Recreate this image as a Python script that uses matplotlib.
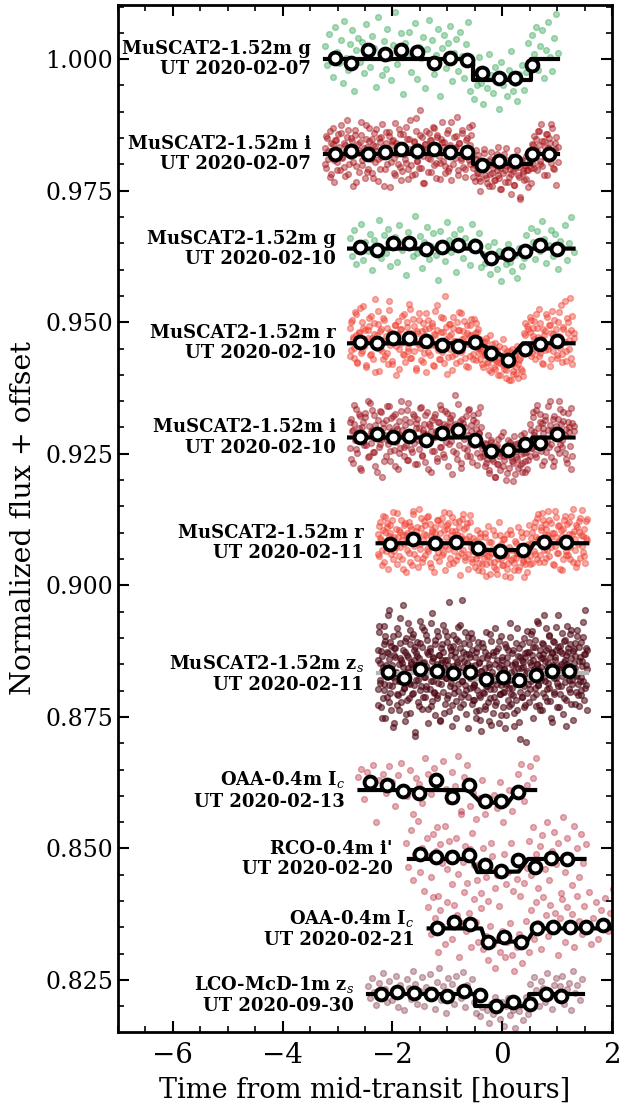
import numpy as np
import matplotlib
matplotlib.use("Agg")
import matplotlib.pyplot as plt
from matplotlib.ticker import MultipleLocator, FormatStrFormatter

plt.rcParams['font.family'] = 'serif'
plt.rcParams['mathtext.fontset'] = 'dejavuserif'

labels = ["MuSCAT2-1.52m g\nUT 2020-02-07",
          "MuSCAT2-1.52m i\nUT 2020-02-07",
          "MuSCAT2-1.52m g\nUT 2020-02-10",
          "MuSCAT2-1.52m r\nUT 2020-02-10",
          "MuSCAT2-1.52m i\nUT 2020-02-10",
          "MuSCAT2-1.52m r\nUT 2020-02-11",
          "MuSCAT2-1.52m z$_s$\nUT 2020-02-11",
          "OAA-0.4m I$_c$\nUT 2020-02-13",
          "RCO-0.4m i'\nUT 2020-02-20",
          "OAA-0.4m I$_c$\nUT 2020-02-21",
          "LCO-McD-1m z$_s$\nUT 2020-09-30"]

colors = ['#35a857', '#a50f15', '#35a857', '#ef3b2c', '#9a0c16', '#ef3b2c',
          '#4a0510', '#b2182b', '#b2182b', '#b2182b', '#7a2535']
alphas = [0.42, 0.42, 0.42, 0.42, 0.42, 0.42, 0.55, 0.35, 0.35, 0.35, 0.35]
model_col = ['k', 'k', 'k', 'k', 'k', 'k', '#b5b5b5', 'k', 'k', 'k', 'k']

# offset level of each light curve
levels = [1.0000, 0.9819, 0.9640, 0.9460, 0.9281, 0.9080, 0.8833, 0.8611, 0.8480, 0.8348, 0.8223]

# time span of the unbinned data [hours]
t_lo = [-3.23, -3.23, -2.78, -2.78, -2.78, -2.27, -2.27, -2.62, -1.75, -1.35, -2.45]
t_hi = [1.01, 1.01, 1.30, 1.30, 1.30, 1.55, 1.55, 0.62, 1.52, 2.10, 1.45]

# unbinned residuals from the offset level, units of 1e-4
res_g07 = [25, -12, 48, 5, -33, 61, 14, -8, 37, -45,
           72, 3, -21, 29, 55, -60, 18, 40, -5, 33,
           -27, 66, 9, -14, 44, 21, -52, 80, 12, -30,
           35, -18, 58, 2, -40, 27, 90, -9, 16, 49,
           -66, 31, 7, 52, -24, 13, 68, -37, 24, 3,
           43, -55, 19, 75, -11, 36, -29, 8, 57, -70,
           22, 46, -16, 30, 63, -42, 11, 39, -23, 51,
           6, -35, 28, 70, -60, -10, -75, -25, -50, 5,
           -45, -85, -20, -55, 10, -30, -65, -15, -40, -95,
           -5, -50, -35, -70, -20, 15, -60, -45, -80, -28,
           -38, -12, -58, -25, 30, -15, 45, 10, 62, -20,
           25, 55, -35, 18, 70, 4, -22, 40, 85, 12]
res_i07 = [12, -25, 31, -8, 44, -37, 5, 19, -52, 27,
           -14, 38, 2, -29, 55, -6, 21, -41, 9, 33,
           47, -18, -3, 26, -60, 15, 36, -22, 8, -33,
           24, 61, -11, 3, -45, 29, 14, -27, 50, -9,
           -36, 18, 40, -15, 7, -50, 32, 23, -4, 58,
           10, -28, 43, -19, 1, 35, -62, 17, 28, -7,
           -40, 22, 6, 49, -24, 13, -31, 39, 0, -16,
           30, -47, 11, 66, -20, 4, 26, -38, 45, -12,
           16, 84, -26, 34, -3, -55, 20, 9, -33, 41,
           -8, 27, 52, -21, 14, -44, 37, 5, -17, 30,
           62, -13, 24, -35, 7, 46, -26, 18, -49, 3,
           33, -6, 15, 72, -30, 21, -10, 40, -23, 11,
           -42, 28, 2, 53, -18, 36, -5, -25, -50, -8,
           -33, -2, -45, -70, -15, -28, 10, -40, -20, -55,
           -12, -38, 5, -60, -25, -48, -8, -30, 14, -44,
           -65, -18, -35, 0, -52, -22, -10, -42, -28, -75,
           -5, -32, -58, -15, 8, -40, -24, -85, -12, -36,
           -48, -20, -3, -30, -62, -14, -26, 20, -18, 35,
           8, -30, 44, 17, -12, 58, -22, 26, -5, 39,
           -40, 12, 31, -16, 50, 3, -27, 22, -58, 15]
res_g10 = [20, -14, 35, -30, 8, 47, -22, 12, -5, 28,
           -41, 16, 3, 55, -18, 26, -9, 38, -33, 6,
           22, -26, 44, -3, 15, -50, 31, 9, -15, 62,
           -8, 24, -37, 13, 41, -20, 5, 29, -12, -60,
           34, 0, -24, 50, 17, -7, 27, -45, 11, 38,
           -17, 21, 4, -32, 46, 14, -2, 30, -35, -10,
           -28, 5, -48, -20, 12, -38, -5, -62, -15, -30,
           8, -25, -42, -12, -55, 2, -33, -18, 25, -8,
           40, 12, -20, 33, -5, 52, 18, -28, 7, 36,
           -14, 27, -38, 15, 3, 45, -21, 10, 60, -6]
res_r10 = [30, -12, 45, 8, -27, 60, 15, -38, 22, 5,
           -18, 40, 70, -5, 26, -45, 11, 33, -22, 52,
           3, -30, 18, 85, -9, 37, -52, 24, 6, -15,
           48, -25, 13, 29, -40, 64, -3, 20, -33, 9,
           35, -60, 16, 42, -11, 27, 0, -20, 55, -36,
           14, 31, -8, 75, -28, 19, 46, -14, 4, -47,
           23, -2, 58, -31, 10, 38, -19, 28, -55, 12,
           44, -23, 7, 33, -42, 17, 62, -6, 25, -29,
           2, 50, -16, 21, -37, 90, 9, -26, 36, -10,
           18, -50, 30, 5, -21, 41, -4, 26, -34, 57,
           -13, 24, 11, -44, 35, -1, 15, -25, 47, 6,
           -30, 20, 39, -9, 28, -18, 8, -15, -40, 2,
           -22, 10, -35, -8, -50, 15, -28, -12, -45, 0,
           -33, -18, -60, -5, -38, -25, 8, -48, -20, -65,
           -15, -42, -30, -70, -10, -52, -35, -22, -58, -5,
           -40, -28, -48, -12, -62, -20, 15, -10, 32, -5,
           22, 45, -18, 30, 8, -30, 55, 12, -24, 38,
           4, -38, 28, 16, -12, 50, -5, 35, -44, 20,
           62, -15, 9, 27, -28, 40, 14, -8, 72, -20,
           31, 3, -33, 48, 19, -10, 86, 25, -40, 11]
res_i10 = [-20, 35, 12, -48, 26, -5, 55, -30, 18, 40,
           -62, 8, 30, -14, 47, 2, -38, 22, 65, -10,
           15, -27, 42, -55, 10, 33, -18, 50, -2, -75,
           28, 5, -35, 60, -12, 20, -44, 37, 9, -24,
           45, -8, 16, -60, 32, -20, 70, 3, -36, 24,
           -15, 52, -42, 11, 29, -28, 6, 41, -50, 18,
           36, -4, -22, 58, -33, 14, 26, -47, 7, 48,
           -11, 21, -65, 34, 0, -26, 44, 13, -39, 30,
           62, -18, 9, -31, 25, 50, -9, -54, 19, 37,
           -6, 43, -25, 15, 80, -40, 22, -14, 31, -58,
           12, 27, -20, 40, -35, 4, 55, -12, 24, -46,
           33, -2, 17, -29, 46, 8, -38, 20, -15, -30,
           -55, -12, -40, 5, -68, -25, -8, -45, -20, -75,
           -18, -50, -2, -35, -62, -28, 10, -42, -22, -80,
           -30, -5, -58, -38, -15, -48, 2, -70, -25, -40,
           -10, -52, -32, -65, -20, 8, -45, -28, -60, -12,
           -35, 15, -20, 38, 5, -32, 52, 18, -10, 44,
           -26, 28, 9, -44, 33, -6, 60, -18, 24, -38,
           14, -55, 40, 2, -22, 35, 70, -12, 26, -4,
           48, -30, 17, -48, 30, 11, -16, 56, -36, 21]
res_r11 = [18, -25, 40, 6, -12, 52, -35, 22, -3, 30,
           -48, 14, 35, -20, 8, 60, -15, 27, -40, 11,
           25, -8, 45, -30, 16, -2, 38, -55, 20, 4,
           -18, 33, 10, -42, 55, -6, 24, -28, 13, 66,
           -10, 29, -36, 7, 42, -22, 15, 50, -14, 1,
           36, -45, 21, -4, 31, -26, 9, 44, -33, 19,
           -7, 48, -19, 26, -50, 12, 34, -11, 58, -28,
           5, 23, -38, 41, -2, 17, -24, 30, -60, 14,
           46, -13, 28, -32, 8, 38, -20, 3, 54, -8,
           -30, 10, -45, -5, 25, -22, -38, 12, -15, -52,
           -8, -28, 20, -40, -12, 32, -25, -58, 2, -18,
           -35, 15, -48, -10, -30, 40, -20, -2, -42, 8,
           -15, -62, -25, 18, -38, -8, 25, -32, -12, -50,
           4, -28, -18, 30, -45, -5, -22, 12, -35, -65,
           -10, 20, -30, -15, 35, -40, -2, 22, -15, 40,
           12, -30, 55, 8, -22, 30, -6, 45, -35, 16,
           28, -12, 62, -25, 10, 38, -40, 20, -5, 50,
           -18, 32, 5, -48, 26, 14, -30, 44, 2, -14,
           36, -22, 18, -8, 52, -35, 24, 9, -45, 30,
           -2, 42, -28, 15, 64, -16, 28, -38, 10, 46]
res_zs11 = [45, -30, 78, -12, 20, -65, 33, 5, -48, 90,
            -20, 62, -85, 15, 40, -8, 110, -55, 27, -38,
            8, 52, -25, 70, -102, 35, -15, 48, 0, -60,
            85, -42, 18, -70, 58, 25, -5, -35, 130, 12,
            -28, 40, -90, 66, 2, -50, 30, 95, -18, 55,
            -75, 22, 10, -40, 75, -22, 44, -120, 16, 38,
            60, -12, -55, 28, 100, -32, 7, 50, -68, 20,
            -8, 82, -45, 13, -25, 64, -95, 36, 4, -30,
            42, -62, 24, 115, -15, 30, -38, 56, -80, 9,
            -48, 18, 70, -5, 35, -88, 47, -20, 26, 92,
            -35, 11, -58, 80, -10, 26, 60, -42, 3, -72,
            50, -18, 34, -100, 14, 72, -28, 40, -6, 65,
            -52, 21, 88, -33, 5, 48, -64, 28, -15, 140,
            12, -40, 57, -22, 36, -78, 19, 68, -45, 2,
            31, -9, 76, -58, 44, -26, -20, -50, 15, -85,
            40, -32, -8, 60, -70, 22, -45, 5, -110, 28,
            -15, 50, -38, 10, -62, 78, -25, -5, 35, -90,
            18, -48, 62, -20, 2, -75, 40, -30, 85, -12,
            -55, 25, -10, 48, -95, 12, -40, 70, -22, -2,
            30, -65, 8, -35, 55, -18, -80, 20, 45, -50,
            -28, 95, -12, -58, 15, 38, -42, 5, -100, 22,
            58, -20, -70, 32, -8, 48, -35, -125, 10, 26,
            -45, 12, 66, -25, -60, 30, 0, -38, 80, -10,
            40, -55, 22, 75, -15, 35, -85, 50, 8, -28,
            64, -40, 18, 100, -22, 6, -60, 44, 28, -12,
            -70, 36, 55, -8, 24, -45, 86, -30, 12, 48,
            -18, 70, -52, 30, 2, -92, 40, 16, -35, 60,
            25, -10, 45, -65, 110, -25, 8, 52, -40, 18,
            -5, 38, -78, 22, 62, -16, 34, -50, 90, 4,
            48, -30, 14, 75, -58, 28, -12, 42, -88, 20,
            10, 58, -36, -4, 82, -20, 50, -62, 30, -8,
            -42, 24, 68, -15, 36, 120, -28, 15, -70, 44]
res_oaa13 = [25, 40, -18, 35, 10, 48, -60, 20, 30, -5,
             45, 15, -30, 28, 52, 5, -12, 38, -45, 22,
             12, -25, 60, 30, -8, 42, -70, 18, 55, 2,
             -20, 35, 8, 65, -40, 25, 48, -30, -5, -55,
             -15, 20, -45, -20, -100, -10, -35, 15, -60, -25,
             0, -40, -8, 30, 50, -20, 10, 45, 22, 60]
res_rco = [30, -15, 55, -40, 10, 72, -25, 20, -60, 40,
           5, -35, 48, 15, -70, 28, -8, 62, -20, 35,
           -48, 12, 40, -28, 85, -5, 25, -45, 18, 50,
           -12, -40, -10, -65, 20, -35, -80, -20, 5, -55,
           -30, -90, -15, 10, -48, -25, 30, -60, -5, -38,
           -70, 0, -45, -18, 35, -30, 60, 10, -55, 25,
           45, -20, 70, -40, 15, 52, -10, 30, -65, 80,
           -25, 40, 8, -50, 62, 20, -35, 48, -8, 28]
res_oaa21 = [40, -10, 60, 20, -45, 35, 5, -30, 50, 15,
             -20, 45, 25, -55, 10, 70, -5, 30, -35, 55,
             12, -25, 38, -40, -15, -60, 5, -30, -75, -20,
             -45, -5, -55, -25, 10, -50, -80, -35, -10, -65,
             -30, 15, -45, 35, -20, 50, 10, -40, 60, 25,
             -15, 45, 5, 30, -50, 20, 55, -25, 40, 8,
             28, -35, 62, 15, -10, 42, 2, 70, -30, 20,
             50, -20, 35, 10, 58, -5, 30, 75, -15, 45]
res_lco = [15, -8, 30, 5, -20, 22, -5, 40, 10, -15,
           25, -12, 8, 35, -25, 18, 2, -30, 28, 12,
           -10, 45, 20, -18, 6, 32, -22, 14, -3, 38,
           8, -28, 24, 50, -12, 16, -35, 30, 0, 20,
           -18, 35, 10, -8, 42, -25, 18, 5, 28, -15,
           -35, -10, -42, -25, 0, -30, -55, -18, -38, -5,
           -28, -48, -15, -60, -22, -8, -40, -30, -65, -12,
           -32, -20, -50, -5, -38, 20, -10, 32, 8, -22,
           25, 12, -15, 40, 5, -28, 18, 30, -8, 15,
           35, -18, 10, 22, -30, 45, 2, 18, -12, 28]

# second camera readout for the dense MuSCAT2 sets, units of 1e-4
res_i07b = [-18, 35, 7, -42, 22, 50, -10, 28, -30, 14,
            40, -5, -24, 18, 65, -38, 9, 31, -15, 46,
            -52, 20, 3, 37, -20, 12, 56, -33, 25, -2,
            29, -45, 16, 48, -8, -27, 34, 6, -60, 21,
            10, 42, -14, 25, -36, 60, 1, -19, 38, -48,
            17, -9, 53, -28, 30, 4, -40, 23, 70, -12,
            -25, 36, 11, -55, 19, 44, -6, 27, -34, 8,
            51, -16, 33, -3, -46, 24, 15, -22, 40, -31,
            2, 62, -19, 13, 35, -39, 21, -7, 47, 9,
            -28, 32, -11, 18, 55, -43, -20, 8, -36, -50,
            -12, -28, 2, -45, -22, -60, -8, -35, -18, -48,
            0, -40, -25, -65, -14, -30, 12, -52, -20, -38,
            -5, -58, -26, -15, -42, -80, -10, -32, -22, -46,
            -30, -12, -55, 18, -25, 30, 6, 44, -18, 25,
            -40, 14, 38, -8, 22, 57, -26, 10, 33, -15]
res_r10b = [-25, 40, 12, -8, 55, -35, 20, 68, -14, 30,
            6, -42, 25, 48, -20, 10, 38, -55, 15, 62,
            -10, 28, -30, 44, 2, -18, 80, 22, -40, 9,
            34, -5, 18, -48, 27, 52, -22, 11, 40, -15,
            65, -28, 7, 32, -50, 19, 45, -9, 24, -36,
            13, 57, -17, 29, -3, 38, -44, 16, 72, -12,
            -30, 21, 48, -6, 31, -58, 14, 36, -24, 50,
            4, -38, 26, 60, -16, 9, 42, -28, 19, -45,
            35, 15, -20, 46, -32, 22, -8, -30, -10, -45,
            -22, 5, -38, -18, -55, -2, -30, -48, -12, -35,
            -60, -25, -42, -8, -50, -28, -70, -15, -40, -58,
            -20, -45, -65, -32, -10, -52, 20, 38, -6, 28,
            50, -25, 14, 42, -12, 30, 66, -18, 8, -40,
            24, 55, -10, 35, -30, 18, 44, 2, -22, 60,
            12, -35, 27, 80, -15, 40, 6, -28, 52, 19]
res_i10b = [30, -40, 15, 62, -22, 5, 45, -58, 20, -8,
            38, -15, 70, -35, 10, 52, -28, 24, -65, 3,
            -12, 48, 18, -45, 33, -5, 60, -25, 12, 40,
            -55, 22, 7, -30, 50, 14, -18, 35, -42, 66,
            2, -22, 44, -10, 28, -50, 18, 56, -35, 9,
            42, -8, -60, 25, 13, -26, 38, 0, -44, 30,
            -18, 55, 10, -38, 22, 47, -12, 32, -70, 16,
            26, -30, 64, 4, -48, 35, -2, 20, -24, 52,
            -36, 12, 42, -15, 30, -52, 8, 58, -20, -35,
            -10, -48, -28, -62, -5, -40, -22, -75, -15, -50,
            -30, 2, -55, -35, -18, -68, -25, -8, -45, -82,
            -12, -38, -58, -20, 5, -48, -30, -65, -15, -42,
            25, -20, 48, 10, -38, 62, -5, 30, -52, 18,
            40, -28, 15, 70, -12, 36, -45, 22, 8, -30,
            55, -18, 32, 4, -40, 46, 20, -60, 28, 12]
res_r11b = [-20, 32, 10, -42, 25, 50, -15, 38, -5, 20,
            45, -30, 12, -8, 58, -25, 22, 6, -48, 34,
            15, -12, 40, -35, 28, 62, -20, 8, 30, -45,
            -2, 48, -28, 18, 35, -10, 52, -38, 14, 26,
            -55, 20, 44, -16, 5, 36, -22, 60, -6, 28,
            38, -40, 16, 50, -14, 24, -32, 10, 42, -18,
            8, 55, -26, 30, -48, 14, 40, -35, -15, 5,
            -28, -50, -8, 20, -40, -18, 12, -62, -25, 2,
            -35, -10, 25, -45, -20, -58, -5, 15, -30, -42,
            8, -22, -48, -12, -65, 18, -28, -38, 0, -18,
            -50, -8, 22, -32, -15, -40, -55, -2, -25, 10,
            -38, 30, -20, 48, 8, -35, 25, 58, -12, 36,
            -28, 16, 44, -8, 20, -42, 62, 12, -18, 35,
            4, -50, 28, 52, -22, 10, 40, -30, 18, 66,
            -12, 34, -38, 22, 48, -5, 14, -25, 42, 6]
res_zs11b = [-60, 25, 90, -18, 42, -85, 12, 55, -32, 70,
             5, -45, 38, 120, -22, 60, -70, 16, -8, 48,
             -95, 30, 2, -40, 75, -15, 28, 105, -55, 20,
             44, -28, 62, -5, -78, 35, 10, -48, 82, -20,
             18, 68, -38, 25, -112, 50, -12, 32, 0, -62,
             58, -24, 14, 88, -45, 22, -8, 72, -30, 40,
             -68, 6, 48, -15, 96, -52, 28, -35, 64, 12,
             -42, 80, -18, 34, -90, 20, 56, -6, 40, -75,
             26, -10, 70, -48, 15, 135, -25, 45, -60, 8,
             52, -38, 30, -85, 18, 62, -20, 2, 92, -45,
             -15, 40, -58, 24, 78, -32, 10, -105, 36, 55,
             -28, 14, 66, -50, 4, -22, 30, -72, 48, -8,
             -42, 20, -88, 5, 58, -35, -15, 40, -68, -25,
             28, -55, 12, -30, 74, -98, -5, 35, -45, 18,
             -60, 42, -20, -8, 62, -40, 15, -80, 25, -35,
             8, -105, 50, -22, 30, -12, -62, 68, -40, 2,
             -28, 45, -75, 18, -50, 85, -18, 10, -92, 30,
             -8, 55, -45, 22, -65, 38, -130, 5, 40, -20,
             60, -30, 15, 80, -45, 25, -8, 50, -62, 18,
             95, -22, 35, -70, 12, 58, -38, 28, 110, -15,
             44, -52, 20, 72, -28, 6, -85, 38, 62, -10,
             -40, 30, 88, -18, 50, -65, 14, 42, -25, 76,
             2, -48, 26, 64, -100, 18, 40, -12, 55, -35,
             82, -20, 10, 46, -58, 32, -6, 70, -42, 24,
             -15, 60, -32, 14, 98, -50, 36, -22, 48, 8]

residuals = [res_g07, res_i07, res_g10, res_r10, res_i10, res_r11,
             res_zs11, res_oaa13, res_rco, res_oaa21, res_lco]
residuals_b = [None, res_i07b, None, res_r10b, res_i10b, res_r11b,
               res_zs11b, None, None, None, None]

# transit model (piecewise)
model_t = [[-3.23, -0.53, -0.53, 0.53, 0.53, 1.01],
           [-3.23, -0.53, -0.53, 0.53, 0.53, 1.01],
           [-2.79, -0.42, -0.32, 0.15, 0.45, 1.30],
           [-2.79, -0.42, 0.12, 0.38, 1.30],
           [-2.79, -0.42, -0.30, 0.45, 0.55, 1.30],
           [-2.27, -0.56, -0.48, 0.50, 0.58, 1.55],
           [-2.27, -0.53, -0.53, 0.50, 0.50, 1.55],
           [-2.60, -0.62, -0.40, 0.10, 0.28, 0.60],
           [-1.70, -0.56, -0.45, 0.30, 0.47, 1.50],
           [-1.34, -0.38, -0.30, 0.45, 0.60, 2.10],
           [-2.44, -0.50, -0.50, 0.48, 0.48, 1.47]]
model_f = [[1.0000, 1.0000, 0.9960, 0.9960, 1.0000, 1.0000],
           [0.9819, 0.9819, 0.9800, 0.9800, 0.9819, 0.9819],
           [0.9640, 0.9640, 0.9623, 0.9623, 0.9640, 0.9640],
           [0.9460, 0.9460, 0.9430, 0.9460, 0.9460],
           [0.9281, 0.9281, 0.9256, 0.9256, 0.9281, 0.9281],
           [0.9080, 0.9080, 0.9067, 0.9067, 0.9080, 0.9080],
           [0.8833, 0.8833, 0.8822, 0.8822, 0.8833, 0.8833],
           [0.8611, 0.8611, 0.8588, 0.8586, 0.8611, 0.8611],
           [0.8480, 0.8480, 0.8455, 0.8456, 0.8480, 0.8480],
           [0.8348, 0.8348, 0.8323, 0.8323, 0.8348, 0.8348],
           [0.8223, 0.8223, 0.8200, 0.8200, 0.8223, 0.8223]]

# binned points
bin_t = [[-3.05, -2.75, -2.44, -2.14, -1.85, -1.55, -1.25, -0.95, -0.65, -0.36, -0.06, 0.24, 0.55],
         [-3.05, -2.75, -2.44, -2.14, -1.85, -1.55, -1.25, -0.95, -0.65, -0.36, -0.06, 0.24, 0.55, 0.85],
         [-2.59, -2.28, -1.99, -1.70, -1.39, -1.09, -0.80, -0.50, -0.21, 0.11, 0.41, 0.69, 1.00],
         [-2.59, -2.28, -1.99, -1.70, -1.39, -1.09, -0.80, -0.50, -0.21, 0.11, 0.41, 0.69, 1.00],
         [-2.59, -2.28, -1.99, -1.70, -1.39, -1.09, -0.80, -0.50, -0.21, 0.11, 0.41, 0.69, 1.00],
         [-2.04, -1.63, -1.23, -0.84, -0.44, -0.04, 0.37, 0.77, 1.17],
         [-2.08, -1.79, -1.49, -1.19, -0.89, -0.59, -0.29, 0.01, 0.31, 0.61, 0.91, 1.21],
         [-2.41, -2.10, -1.80, -1.51, -1.21, -0.91, -0.60, -0.32, -0.02, 0.28],
         [-1.50, -1.20, -0.91, -0.61, -0.32, -0.02, 0.29, 0.59, 0.88, 1.18],
         [-1.19, -0.87, -0.58, -0.26, 0.03, 0.34, 0.63, 0.93, 1.24, 1.53, 1.83],
         [-2.20, -1.91, -1.61, -1.30, -1.00, -0.70, -0.40, -0.11, 0.20, 0.50, 0.80, 1.08]]
bin_f = [[1.0003, 0.9993, 1.0017, 1.0009, 1.0017, 1.0014, 0.9993, 1.0003, 0.9998, 0.9974, 0.9965, 0.9964, 0.9989],
         [0.9819, 0.9826, 0.9819, 0.9823, 0.9830, 0.9825, 0.9830, 0.9823, 0.9823, 0.9799, 0.9807, 0.9806, 0.9820, 0.9819],
         [0.9643, 0.9637, 0.9650, 0.9650, 0.9640, 0.9643, 0.9646, 0.9644, 0.9623, 0.9629, 0.9635, 0.9646, 0.9640],
         [0.9462, 0.9460, 0.9470, 0.9471, 0.9465, 0.9456, 0.9454, 0.9462, 0.9441, 0.9428, 0.9450, 0.9459, 0.9465],
         [0.9281, 0.9287, 0.9281, 0.9284, 0.9276, 0.9289, 0.9295, 0.9276, 0.9255, 0.9258, 0.9269, 0.9271, 0.9287],
         [0.9079, 0.9088, 0.9081, 0.9082, 0.9071, 0.9066, 0.9067, 0.9083, 0.9083],
         [0.8835, 0.8824, 0.8841, 0.8837, 0.8834, 0.8836, 0.8822, 0.8825, 0.8820, 0.8829, 0.8837, 0.8837],
         [0.8627, 0.8621, 0.8610, 0.8605, 0.8630, 0.8597, 0.8620, 0.8590, 0.8590, 0.8607],
         [0.8490, 0.8483, 0.8483, 0.8487, 0.8469, 0.8457, 0.8478, 0.8465, 0.8481, 0.8479],
         [0.8348, 0.8360, 0.8356, 0.8323, 0.8331, 0.8323, 0.8348, 0.8351, 0.8350, 0.8351, 0.8355],
         [0.8224, 0.8227, 0.8225, 0.8224, 0.8220, 0.8229, 0.8221, 0.8200, 0.8208, 0.8204, 0.8224, 0.8220]]

fig = plt.figure(figsize=(6.23, 11.05), dpi=100)
ax = fig.add_axes([0.1894, 0.066, 0.7929, 0.9295])

for k in range(len(labels)):
    for res in (residuals[k], residuals_b[k]):
        if res is None:
            continue
        t = np.linspace(t_lo[k], t_hi[k], len(res))
        ax.plot(t, levels[k] + np.array(res) * 1e-4, 'o', color=colors[k],
                alpha=alphas[k], ms=4.2, mew=1.0, zorder=1)
    ax.plot(model_t[k], model_f[k], '-', color=model_col[k], lw=3, zorder=2)
    ax.plot(bin_t[k], bin_f[k], 'o', mfc='white', mec='k', ms=8.5, mew=2.8, zorder=3)
    ax.text(t_lo[k] - 0.25, levels[k], labels[k], ha='right', va='center',
            multialignment='right', fontsize=13, fontweight='bold', linespacing=1.15)

ax.set_xlim(-7, 2)
ax.set_ylim(0.8151, 1.0103)
ax.xaxis.set_major_locator(MultipleLocator(2))
ax.xaxis.set_minor_locator(MultipleLocator(0.5))
ax.yaxis.set_major_locator(MultipleLocator(0.025))
ax.yaxis.set_minor_locator(MultipleLocator(0.005))
ax.yaxis.set_major_formatter(FormatStrFormatter('%.3f'))
ax.tick_params(which='both', direction='in', top=True, right=True)
ax.tick_params(which='major', length=8, width=1.5, labelsize=17)
ax.tick_params(which='minor', length=4, width=1.2)
ax.tick_params(axis='x', which='major', labelsize=20, pad=7)
for s in ax.spines.values():
    s.set_linewidth(2)
ax.set_xlabel("Time from mid-transit [hours]", fontsize=19.5, labelpad=6)
ax.set_ylabel("Normalized flux + offset", fontsize=20.5, labelpad=6)

fig.savefig("out.png", dpi=100)
